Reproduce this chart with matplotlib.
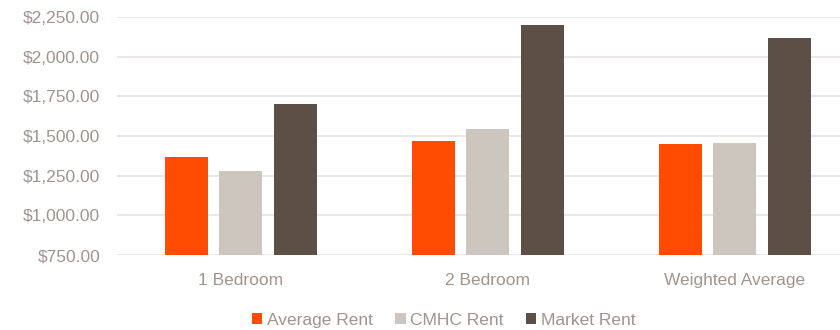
import numpy as np
import matplotlib
matplotlib.use("Agg")
import matplotlib.pyplot as plt
from matplotlib.ticker import FuncFormatter

categories = ["1 Bedroom", "2 Bedroom", "Weighted Average"]
average_rent = [1367, 1468, 1451]
cmhc_rent = [1282, 1543, 1455]
market_rent = [1700, 2200, 2116]
series_names = ["Average Rent", "CMHC Rent", "Market Rent"]
colors = ["#FF4C00", "#CDC6BF", "#5B4F46"]
yticks = [750, 1000, 1250, 1500, 1750, 2000, 2250]

plt.rcParams['font.family'] = ['Liberation Sans', 'DejaVu Sans']
text_color = "#A0948D"

fig = plt.figure(figsize=(8.4, 3.3), dpi=100)
ax = fig.add_axes([0.139, 0.227, 0.861, 0.721])

x = np.arange(len(categories))
w = 0.174
step = 0.2215
for i, (vals, name, c) in enumerate(zip([average_rent, cmhc_rent, market_rent], series_names, colors)):
    ax.bar(x + (i - 1) * step, np.array(vals) - 750, bottom=750, width=w, color=c,
           label=name, zorder=3)

ax.set_ylim(750, 2250)
ax.set_xlim(-0.502, 2.425)
ax.set_yticks(yticks)
ax.yaxis.set_major_formatter(FuncFormatter(lambda v, p: "${:,.2f}".format(v)))
ax.set_xticks(x)
ax.set_xticklabels(categories)
ax.grid(axis='y', color="#E6E3E1", linewidth=1.2, zorder=0)
ax.set_axisbelow(True)
for s in ax.spines.values():
    s.set_visible(False)
ax.tick_params(axis='both', length=0, labelsize=12.5, labelcolor=text_color)
ax.tick_params(axis='y', pad=12)
ax.tick_params(axis='x', pad=13)

fig.legend(loc='lower center', ncol=3, frameon=False, fontsize=12.5,
           handlelength=0.6, handleheight=0.6, handletextpad=0.25,
           columnspacing=1.3, labelcolor=text_color, bbox_to_anchor=(0.528, -0.04))

fig.savefig("out.png", dpi=100)
